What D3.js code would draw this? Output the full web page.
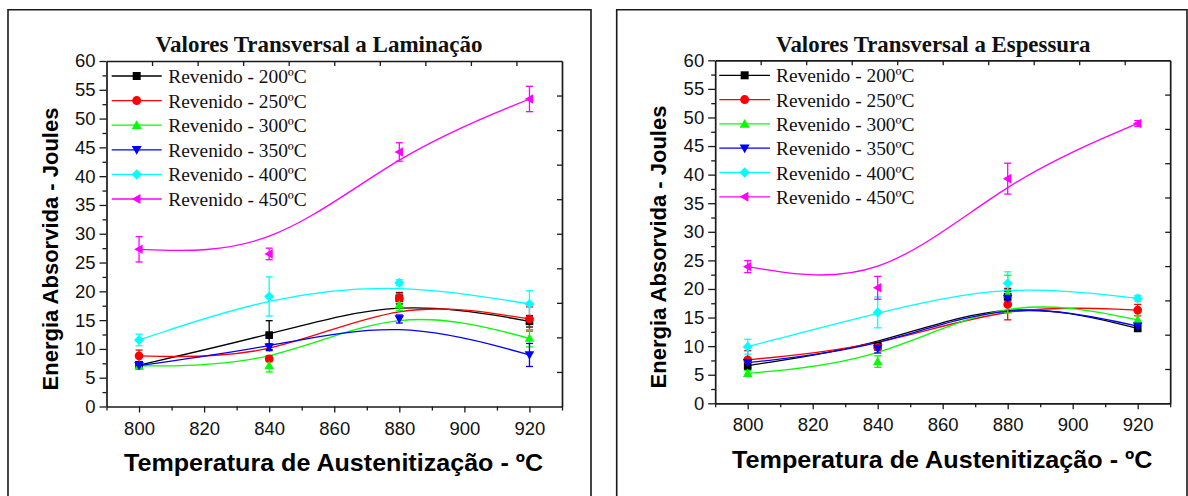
<!DOCTYPE html>
<html>
<head>
<meta charset="utf-8">
<script src="https://cdn.jsdelivr.net/npm/d3@7"></script>
<style>
  html, body { margin: 0; padding: 0; background: #fff; }
  svg { display: block; }
  .tick text { font-family: "Liberation Sans", Arial, sans-serif; }
</style>
</head>
<body>
<svg id="chart" width="1188" height="496"></svg>
<script>
// Austenitizing temperatures (ºC)
const temps = [800, 840, 880, 920];

// Tempering series
const seriesNames = ["Revenido - 200ºC", "Revenido - 250ºC", "Revenido - 300ºC",
                     "Revenido - 350ºC", "Revenido - 400ºC", "Revenido - 450ºC"];
const seriesColors = ["#000000", "#ff0000", "#00ff00", "#0000ff", "#00ffff", "#ff00ff"];
const seriesSymbols = ["square", "circle", "triUp", "triDown", "diamond", "triLeft"];

// Absorbed energy (J), transverse to rolling
const lam200 = [7.2, 12.4, 18.8, 14.8];
const lam250 = [8.8, 8.3, 18.8, 15.2];
const lam300 = [7.05, 7.1, 17.65, 11.85];
const lam350 = [7.1, 10.3, 15.2, 8.95];
const lam400 = [11.55, 19.1, 21.5, 17.8];
const lam450 = [27.3, 26.5, 44.2, 53.4];
const lamErr200 = [0.5, 2.5, 1.0, 1.0];
const lamErr250 = [1.0, 0.5, 0.9, 2.1];
const lamErr300 = [0.6, 1.1, 1.0, 1.5];
const lamErr350 = [0.5, 0.6, 0.7, 2.0];
const lamErr400 = [1.0, 3.4, 0.5, 2.3];
const lamErr450 = [2.2, 1.0, 1.6, 2.2];

// Absorbed energy (J), transverse to thickness
const esp200 = [6.6, 10.0, 18.6, 13.1];
const esp250 = [7.6, 9.8, 17.3, 16.3];
const esp300 = [5.25, 7.3, 19.1, 14.6];
const esp350 = [7.1, 9.6, 18.35, 13.5];
const esp400 = [9.9, 15.9, 21.0, 18.35];
const esp450 = [23.9, 20.2, 39.3, 48.95];
const espErr200 = [0.7, 0.6, 1.5, 0.5];
const espErr250 = [1.6, 0.5, 2.7, 1.0];
const espErr300 = [0.5, 1.0, 3.3, 0.8];
const espErr350 = [0.8, 0.8, 1.2, 0.6];
const espErr400 = [1.3, 2.7, 2.0, 0.5];
const espErr450 = [1.05, 2.0, 2.7, 0.5];

// Axis ticks
const xTicks = [800, 820, 840, 860, 880, 900, 920];
const xMinorTicks = [790, 810, 830, 850, 870, 890, 910, 930];
const yTicks = [0, 5, 10, 15, 20, 25, 30, 35, 40, 45, 50, 55, 60];
const yMinorTicks = [2.5, 7.5, 12.5, 17.5, 22.5, 27.5, 32.5, 37.5, 42.5, 47.5, 52.5, 57.5];
const xDomain = [790, 930];
const yDomain = [0, 60];

const chartTitles = ["Valores Transversal a Laminação", "Valores Transversal a Espessura"];
const xTitle = "Temperatura de Austenitização - ºC";
const yTitle = "Energia Absorvida - Joules";

const SANS = '"Liberation Sans", Arial, sans-serif';
const SERIF = '"Liberation Serif", "Times New Roman", serif';
const INK = "#1a1a1a";

// Marker shapes as d3 symbol types (size = half extent in px)
const shapes = {
  square: { draw(c, s) { const h = s * 0.8; c.rect(-h, -h, 2 * h, 2 * h); } },
  circle: { draw(c, s) { const r = s * 0.9; c.moveTo(r, 0); c.arc(0, 0, r, 0, 2 * Math.PI); } },
  triUp: { draw(c, s) { c.moveTo(0, -s); c.lineTo(s, s * 0.75); c.lineTo(-s, s * 0.75); c.closePath(); } },
  triDown: { draw(c, s) { c.moveTo(0, s); c.lineTo(s, -s * 0.75); c.lineTo(-s, -s * 0.75); c.closePath(); } },
  diamond: { draw(c, s) { const h = s * 1.05; c.moveTo(0, -h); c.lineTo(h, 0); c.lineTo(0, h); c.lineTo(-h, 0); c.closePath(); } },
  triLeft: { draw(c, s) { c.moveTo(-s, 0); c.lineTo(s * 0.75, -s); c.lineTo(s * 0.75, s); c.closePath(); } }
};
const markerPath = (name, s) => d3.symbol().type(shapes[name]).size(s)();

const svg = d3.select("#chart");
svg.append("rect").attr("width", 1188).attr("height", 496).attr("fill", "#fff");

function drawPanel(cfg) {
  const g = svg.append("g");

  // panel frame
  g.append("path")
    .attr("d", cfg.frame)
    .attr("fill", "none").attr("stroke", INK).attr("stroke-width", 1.6);

  const x = d3.scaleLinear().domain(xDomain).range([cfg.left, cfg.right]);
  const y = d3.scaleLinear().domain(yDomain).range([cfg.bottom, cfg.top]);

  // title
  g.append("text")
    .attr("x", cfg.titleX).attr("y", cfg.titleY)
    .attr("text-anchor", "middle")
    .attr("textLength", cfg.titleW).attr("lengthAdjust", "spacingAndGlyphs")
    .style("font-family", SERIF).style("font-weight", "bold").style("font-size", "22.5px")
    .attr("fill", "#111")
    .text(cfg.title);

  // bottom axis (major + minor)
  const bAxis = g.append("g").attr("transform", `translate(0,${cfg.bottom})`)
    .call(d3.axisBottom(x).tickValues(xTicks).tickSize(6).tickPadding(9).tickSizeOuter(0).tickFormat(d3.format("d")));
  g.append("g").attr("transform", `translate(0,${cfg.bottom})`)
    .call(d3.axisBottom(x).tickValues(xMinorTicks).tickSize(4).tickFormat("").tickSizeOuter(0))
    .select(".domain").remove();
  // left axis
  const lAxis = g.append("g").attr("transform", `translate(${cfg.left},0)`)
    .call(d3.axisLeft(y).tickValues(yTicks).tickSize(7).tickPadding(4).tickSizeOuter(0).tickFormat(d3.format("d")));
  g.append("g").attr("transform", `translate(${cfg.left},0)`)
    .call(d3.axisLeft(y).tickValues(yMinorTicks).tickSize(4).tickFormat("").tickSizeOuter(0))
    .select(".domain").remove();
  // top and right axes: ten inward divisions of each range
  const topTicks = d3.range(1, 10).map(i => xDomain[0] + i * (xDomain[1] - xDomain[0]) / 10);
  const rightTicks = d3.range(1, 10).map(i => yDomain[0] + i * (yDomain[1] - yDomain[0]) / 10);
  g.append("g").attr("transform", `translate(0,${cfg.top})`)
    .call(d3.axisBottom(x).tickValues(topTicks).tickSize(5).tickFormat("").tickSizeOuter(0));
  g.append("g").attr("transform", `translate(${cfg.right},0)`)
    .call(d3.axisLeft(y).tickValues(rightTicks).tickSize(5).tickFormat("").tickSizeOuter(0));

  g.selectAll(".domain").attr("stroke", INK).attr("stroke-width", 1.7);
  g.selectAll(".tick line").attr("stroke", INK).attr("stroke-width", 1.3);
  bAxis.selectAll(".tick text").style("font-size", "18.5px").attr("fill", "#111");
  lAxis.selectAll(".tick text").style("font-size", "18.5px").attr("fill", "#111");

  // axis titles
  g.append("text")
    .attr("x", cfg.xTitleX).attr("y", cfg.xTitleY)
    .attr("textLength", cfg.xTitleW).attr("lengthAdjust", "spacingAndGlyphs")
    .style("font-family", SANS).style("font-weight", "bold").style("font-size", "24px")
    .attr("fill", "#000")
    .text(xTitle);
  g.append("text")
    .attr("transform", `translate(${cfg.yTitleX},${cfg.yTitleY}) rotate(-90)`)
    .attr("text-anchor", "middle")
    .style("font-family", SANS).style("font-weight", "bold").style("font-size", "22px")
    .attr("fill", "#000")
    .text(yTitle);

  // B-spline curves through the control points
  const line = d3.line().x(d => x(d.t)).y(d => y(d.v)).curve(d3.curveBasis);
  const series = cfg.values.map((vals, i) => ({
    i, pts: temps.map((t, k) => ({ t, v: vals[k], e: cfg.errors[i][k] }))
  }));

  g.append("g").selectAll("path").data(series).join("path")
    .attr("d", s => line(s.pts))
    .attr("fill", "none")
    .attr("stroke", s => seriesColors[s.i])
    .attr("stroke-width", 1.3);

  // error bars and markers
  series.forEach(s => {
    const col = seriesColors[s.i];
    const eg = g.append("g").attr("stroke", col).attr("stroke-width", 1.3);
    eg.selectAll("line.v").data(s.pts).join("line").attr("class", "v")
      .attr("x1", d => x(d.t)).attr("x2", d => x(d.t))
      .attr("y1", d => y(d.v - d.e)).attr("y2", d => y(d.v + d.e));
    eg.selectAll("line.t").data(s.pts).join("line").attr("class", "t")
      .attr("x1", d => x(d.t) - 3.5).attr("x2", d => x(d.t) + 3.5)
      .attr("y1", d => y(d.v + d.e)).attr("y2", d => y(d.v + d.e));
    eg.selectAll("line.b").data(s.pts).join("line").attr("class", "b")
      .attr("x1", d => x(d.t) - 3.5).attr("x2", d => x(d.t) + 3.5)
      .attr("y1", d => y(d.v - d.e)).attr("y2", d => y(d.v - d.e));
  });
  series.forEach(s => {
    g.append("g").selectAll("path").data(s.pts).join("path")
      .attr("transform", d => `translate(${x(d.t)},${y(d.v)})`)
      .attr("d", markerPath(seriesSymbols[s.i], 4.8))
      .attr("fill", seriesColors[s.i]);
  });

  // legend
  const lg = g.append("g");
  seriesNames.forEach((name, i) => {
    const cy = cfg.legY + i * cfg.legStep;
    lg.append("line")
      .attr("x1", cfg.legX0).attr("x2", cfg.legX1).attr("y1", cy).attr("y2", cy)
      .attr("stroke", seriesColors[i]).attr("stroke-width", 1.3);
    lg.append("path")
      .attr("transform", `translate(${(cfg.legX0 + cfg.legX1) / 2},${cy})`)
      .attr("d", markerPath(seriesSymbols[i], 5))
      .attr("fill", seriesColors[i]);
    lg.append("text")
      .attr("x", cfg.legTextX).attr("y", cy + 7)
      .style("font-family", SERIF).style("font-size", "19.4px")
      .attr("fill", "#111")
      .text(name);
  });
}

drawPanel({
  frame: "M8,496 V9.7 H591 V496",
  left: 106.5, right: 562, top: 61, bottom: 406.5,
  title: chartTitles[0], titleX: 319, titleY: 51.7, titleW: 327,
  xTitleX: 124, xTitleY: 471, xTitleW: 419,
  yTitleX: 57.5, yTitleY: 249,
  values: [lam200, lam250, lam300, lam350, lam400, lam450],
  errors: [lamErr200, lamErr250, lamErr300, lamErr350, lamErr400, lamErr450],
  legX0: 111.7, legX1: 161.7, legTextX: 168.3, legY: 76, legStep: 24.6
});

drawPanel({
  frame: "M616.7,496 V9.7 H1187 V496",
  left: 715.2, right: 1170.2, top: 60.3, bottom: 403.3,
  title: chartTitles[1], titleX: 933.3, titleY: 51.7, titleW: 314.5,
  xTitleX: 732, xTitleY: 468.3, xTitleW: 420.5,
  yTitleX: 665.5, yTitleY: 247,
  values: [esp200, esp250, esp300, esp350, esp400, esp450],
  errors: [espErr200, espErr250, espErr300, espErr350, espErr400, espErr450],
  legX0: 719.3, legX1: 770, legTextX: 776, legY: 75.3, legStep: 24.3
});
</script>
</body>
</html>
